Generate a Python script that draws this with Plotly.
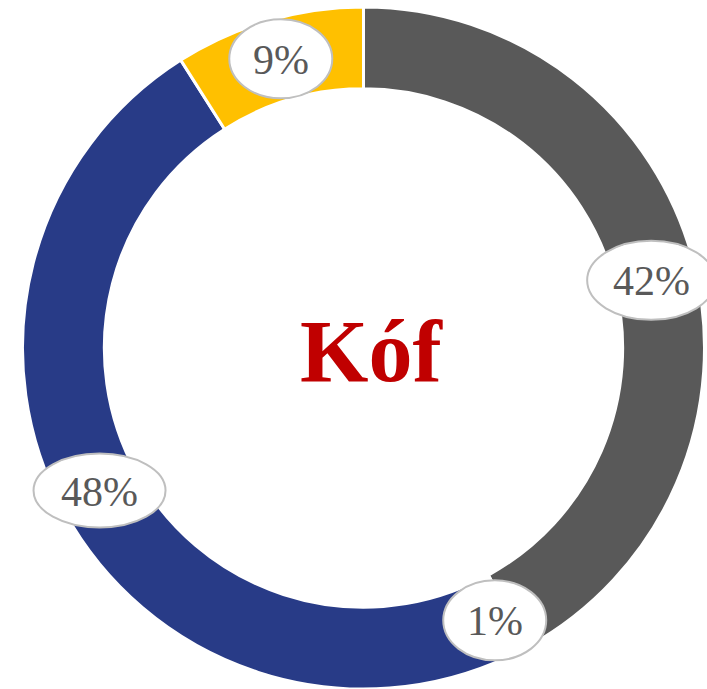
import math
import plotly.graph_objects as go

# ---- data ----
categories = ["A", "B", "C", "D"]
values = [42, 1, 48, 9]
label_texts = ["42%", "1%", "48%", "9%"]
colors = ["#595959", "#FFFFFF", "#283B87", "#FFC000"]
center_title = "Kóf"

# ---- layout / style constants ----
W, H = 707, 689
cx, cy = 363.5, 348.0          # donut centre in pixels (from top-left)
R_out = 341.0
hole = 0.76
R_lab = R_out * (1 + hole) / 2  # labels on the ring mid-line
ell_sizes = {"42%": (128, 79), "1%": (103, 80), "48%": (132, 74), "9%": (103, 79)}
lab_nudge = {"42%": (-3, 7), "1%": (-5, 5), "48%": (-1, -2), "9%": (1, -1)}
title_pos = (371.5, 351.0)

fig = go.Figure()
fig.add_trace(go.Pie(
    labels=categories, values=values, sort=False, direction="clockwise",
    rotation=0, hole=hole, textinfo="none", hoverinfo="none",
    marker=dict(colors=colors, line=dict(color="#FFFFFF", width=3)),
    domain=dict(x=[(cx - R_out) / W, (cx + R_out) / W],
                y=[max(0, 1 - (cy + R_out) / H), 1 - (cy - R_out) / H]),
    showlegend=False,
))

shapes, annotations = [], []
total = sum(values)
cum = 0
for v, t in zip(values, label_texts):
    mid = (cum + v / 2) / total * 2 * math.pi
    cum += v
    nx, ny = lab_nudge[t]
    px = cx + R_lab * math.sin(mid) + nx
    py = cy - R_lab * math.cos(mid) + ny
    ew, eh = ell_sizes[t]
    shapes.append(dict(type="circle", xref="paper", yref="paper", layer="above",
                       x0=(px - ew / 2) / W, x1=(px + ew / 2) / W,
                       y0=1 - (py + eh / 2) / H, y1=1 - (py - eh / 2) / H,
                       fillcolor="#FFFFFF", line=dict(color="#BFBFBF", width=2)))
    annotations.append(dict(x=px / W, y=1 - (py + 1) / H, xref="paper", yref="paper",
                            text=t, showarrow=False, xanchor="center", yanchor="middle",
                            font=dict(family="Liberation Serif, Times New Roman, serif",
                                      size=42, color="#595959")))

annotations.append(dict(x=title_pos[0] / W, y=1 - title_pos[1] / H, xref="paper", yref="paper",
                        text="<b>" + center_title + "</b>", showarrow=False,
                        xanchor="center", yanchor="middle",
                        font=dict(family="Liberation Serif, Times New Roman, serif",
                                  size=88, color="#C00000")))

fig.update_layout(width=W, height=H, margin=dict(l=0, r=0, t=0, b=0),
                  paper_bgcolor="#FFFFFF", plot_bgcolor="#FFFFFF",
                  shapes=shapes, annotations=annotations)
fig.write_html("out.html", config={"displayModeBar": False},
               post_script="document.body.style.margin='0';")
